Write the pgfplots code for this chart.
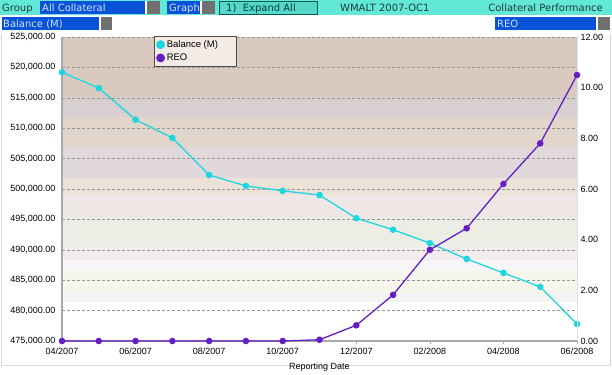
\documentclass[border=0pt]{standalone}
\usepackage{pgfplots}
\pgfplotsset{compat=1.18}
\usepackage{fontspec}
\setmainfont{Liberation Sans}
\newfontfamily\hdr{DejaVu Sans}
\definecolor{teal1}{RGB}{98,232,214}
\definecolor{teal2}{RGB}{86,216,200}
\definecolor{bbox}{RGB}{8,82,216}
\definecolor{gbox}{RGB}{112,112,112}
\definecolor{htext}{RGB}{30,60,60}
\definecolor{btext}{RGB}{210,228,255}
\definecolor{cyanl}{RGB}{30,214,224}
\definecolor{purp}{RGB}{100,30,196}
\definecolor{axgray}{RGB}{168,168,168}
\definecolor{gridg}{RGB}{150,150,150}
\definecolor{bg1}{RGB}{217,201,191}
\definecolor{bg2}{RGB}{216,208,208}
\definecolor{bg3}{RGB}{226,214,204}
\definecolor{bg4}{RGB}{224,216,218}
\definecolor{bg5}{RGB}{236,226,216}
\definecolor{bg6}{RGB}{239,230,230}
\definecolor{bg7}{RGB}{236,238,230}
\definecolor{bg8}{RGB}{243,236,236}
\definecolor{bg9}{RGB}{246,246,246}
\definecolor{bg10}{RGB}{246,246,236}
\definecolor{bg11}{RGB}{244,244,244}
\definecolor{legbg}{RGB}{242,235,230}
\pgfplotstableread{
x bal
0 519200
1 516600
2 511400
3 508400
4 502300
5 500500
6 499700
7 499000
8 495200
9 493300
10 491100
11 488500
12 486200
13 483900
14 477800
}\baltable
\pgfplotstableread{
x reo
0 0
1 0
2 0
3 0
4 0
5 0
6 0
7 0.05
8 0.62
9 1.82
10 3.60
11 4.45
12 6.20
13 7.80
14 10.50
}\reotable
\begin{document}
\begin{tikzpicture}
\begin{scope}[x=1pt,y=1pt]
\useasboundingbox (0,0) rectangle (612,368);
\clip (0,0) rectangle (612,368);
\fill[white] (0,0) rectangle (612,368);
% header bar
\fill[teal1] (0,353) rectangle (612,368);
\fill[bbox] (40,354) rectangle (145,367);
\fill[white] (145,354) rectangle (147,367);
\fill[gbox] (147,354) rectangle (160,367);
\fill[bbox] (167,354) rectangle (200,367);
\fill[white] (200,354) rectangle (202,367);
\fill[gbox] (202,354) rectangle (215,367);
\filldraw[fill=teal2,draw=teal!70!black] (219,353.5) rectangle (317,367);
\node[anchor=base west,inner sep=0,text=htext,font=\hdr\fontsize{10}{11}\selectfont] at (2,356.5) {Group};
\node[anchor=base west,inner sep=0,text=btext,font=\hdr\fontsize{10}{11}\selectfont] at (42,356.5) {All Collateral};
\node[anchor=base west,inner sep=0,text=btext,font=\hdr\fontsize{10}{11}\selectfont] at (169,356.5) {Graph};
\node[anchor=base west,inner sep=0,text=teal!50!black,font=\hdr\fontsize{10}{11}\selectfont] at (226,356.5) {1)\ \ Expand All};
\node[anchor=base west,inner sep=0,text=htext,font=\hdr\fontsize{10}{11}\selectfont] at (340,356.5) {WMALT 2007-OC1};
\node[anchor=base east,inner sep=0,text=htext,font=\hdr\fontsize{10}{11}\selectfont] at (603,356.5) {Collateral Performance};
% row 2
\fill[bbox] (2,338) rectangle (99,351);
\fill[gbox] (101,338) rectangle (112,351);
\fill[bbox] (495,338) rectangle (596,351);
\fill[gbox] (598,338) rectangle (610,351);
\node[anchor=base west,inner sep=0,text=btext,font=\hdr\fontsize{10}{11}\selectfont] at (3,340.5) {Balance (M)};
\node[anchor=base west,inner sep=0,text=btext,font=\hdr\fontsize{10}{11}\selectfont] at (497,340.5) {REO};
% frame
\draw[gray!30,line width=1pt] (1.5,0) -- (1.5,334);
\draw[gray!30,line width=1pt] (1.5,2) -- (610,2) -- (610,334);
% background bands
\fill[bg1] (62,331) rectangle (577,271);
\fill[bg2] (62,271) rectangle (577,251);
\fill[bg3] (62,251) rectangle (577,221);
\fill[bg4] (62,221) rectangle (577,190);
\fill[bg5] (62,190) rectangle (577,173);
\fill[bg6] (62,173) rectangle (577,150);
\fill[bg7] (62,150) rectangle (577,123);
\fill[bg8] (62,123) rectangle (577,108);
\fill[bg9] (62,108) rectangle (577,98);
\fill[bg10] (62,98) rectangle (577,75);
\fill[bg11] (62,75) rectangle (577,66);
\end{scope}
\begin{axis}[
  at={(62pt,27pt)}, anchor=south west,
  width=515pt, height=304pt, scale only axis,
  xmin=0, xmax=14, ymin=475000, ymax=525000,
  axis y line*=left, axis x line*=bottom,
  axis line style={axgray, line width=1.2pt, -},
  xtick={0,2,...,14},
  xticklabels={04/2007,06/2007,08/2007,10/2007,12/2007,02/2008,04/2008,06/2008},
  ytick={475000,480000,...,525000},
  scaled y ticks=false,
  yticklabel style={/pgf/number format/.cd, fixed, fixed zerofill, precision=2, 1000 sep={,}},
  /pgf/number format/assume math mode=true,
  tick label style={font=\fontsize{9}{10}\selectfont, text=black},
  xtick style={draw=axgray, line width=0.6pt},
  ytick style={draw=none},
  tick align=outside,
  major tick length=3pt,
  xticklabel shift=0.5pt,
  yticklabel shift=0pt,
  ymajorgrids,
  grid style={gridg, dash pattern=on 2.5pt off 2.5pt, line width=0.6pt},
  xlabel={Reporting Date},
  xlabel style={font=\fontsize{9}{10}\selectfont, yshift=-1pt},
  clip=false,
]
\addplot[cyanl, line width=1.3pt, mark=*, mark size=2.6pt, mark options={fill=cyanl, draw=cyanl}] table[x=x,y=bal] {\baltable};
\end{axis}
\begin{axis}[
  at={(62pt,27pt)}, anchor=south west,
  width=515pt, height=304pt, scale only axis,
  xmin=0, xmax=14, ymin=0, ymax=12,
  axis y line*=right, axis x line=none,
  axis line style={gray!25, line width=0.8pt, -},
  ytick={0,2,...,12},
  yticklabel style={/pgf/number format/.cd, fixed, fixed zerofill, precision=2},
  /pgf/number format/assume math mode=true,
  tick label style={font=\fontsize{9}{10}\selectfont, text=black},
  ytick style={draw=none},
  yticklabel shift=0pt,
  clip=false,
  legend style={at={(0.179,1.004)}, anchor=north west, fill=legbg, draw=black!70, font=\fontsize{9.5}{10}\selectfont, inner xsep=2pt, inner ysep=2.5pt, row sep=1pt, cells={anchor=west}},
  legend cell align=left,
]
\addlegendimage{only marks, mark=*, mark size=4.2pt, mark options={fill=cyanl, draw=cyanl}}
\addlegendentry{Balance (M)\hspace*{14pt}\mbox{}}
\addplot[purp, line width=1.3pt, mark=*, mark size=2.6pt, mark options={fill=purp, draw=purp}, forget plot] table[x=x,y=reo] {\reotable};
\addlegendimage{only marks, mark=*, mark size=4.2pt, mark options={fill=purp, draw=purp}}
\addlegendentry{REO}
\end{axis}
\end{tikzpicture}
\end{document}
